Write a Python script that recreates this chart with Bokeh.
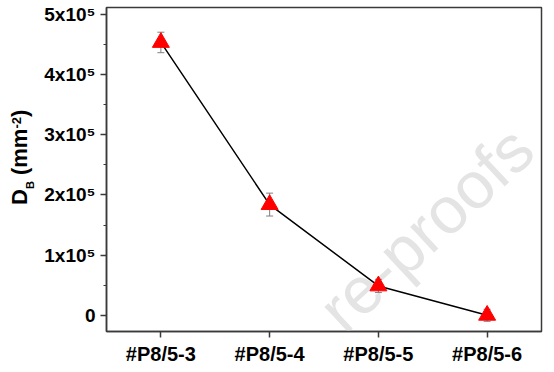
import math
from bokeh.plotting import figure
from bokeh.layouts import row
from bokeh.models import (FactorRange, Range1d, ColumnDataSource, Whisker, TeeHead,
                          Label, CustomJSTickFormatter, FixedTicker, Div)
from bokeh.embed import file_html
from bokeh.resources import INLINE

# ---- data ----
samples = ["#P8/5-3", "#P8/5-4", "#P8/5-5", "#P8/5-6"]
db = [4.53e5, 1.84e5, 0.49e5, 0.003e5]
db_err = [0.17e5, 0.19e5, 0.11e5, 0.10e5]
y_ticks = [0, 1e5, 2e5, 3e5, 4e5, 5e5]
y_minor = [0.5e5, 1.5e5, 2.5e5, 3.5e5, 4.5e5]

FONT = "Liberation Sans"
AXC = "#3a3a3a"
DIV_W = 40

src = ColumnDataSource(dict(
    x=samples, y=db,
    upper=[v + e for v, e in zip(db, db_err)],
    lower=[v - e for v, e in zip(db, db_err)],
))

p = figure(width=554 - DIV_W, height=372,
           x_range=FactorRange(*samples, range_padding=0),
           y_range=Range1d(-0.266e5, 5.11e5),
           output_backend="svg", toolbar_location=None,
           min_border_left=106 - DIV_W, min_border_right=13,
           min_border_top=7, min_border_bottom=41)

p.xgrid.visible = False
p.ygrid.visible = False
p.background_fill_color = "white"
p.border_fill_color = "white"
p.outline_line_color = AXC
p.outline_line_width = 1.5

# faint watermark (kept inside the plot frame)
wm = Label(x=416, y=193, x_units="screen", y_units="screen", text="re-proofs",
           angle=math.radians(43), text_align="right", text_baseline="alphabetic",
           text_font=FONT, text_font_size="66px", text_color="#e4e4e4", level="underlay")
p.add_layout(wm)

p.line("x", "y", source=src, line_color="black", line_width=1.5)

wh = Whisker(base="x", upper="upper", lower="lower", source=src,
             line_color="#808080", line_width=1, level="underlay",
             upper_head=TeeHead(size=7, line_color="#808080", line_width=1),
             lower_head=TeeHead(size=7, line_color="#808080", line_width=1))
p.add_layout(wh)

p.scatter("x", "y", source=src, marker="triangle", size=17,
          fill_color="#ff0000", line_color="#ff0000")

# axes
for ax in (p.xaxis[0], p.yaxis[0]):
    ax.axis_line_color = AXC
    ax.axis_line_width = 1.5
    ax.major_tick_line_color = AXC
    ax.major_tick_line_width = 1.5
    ax.major_tick_out = 6
    ax.major_tick_in = 0
    ax.major_label_text_font = FONT
    ax.major_label_text_font_style = "bold"
    ax.major_label_text_color = "black"
    ax.major_label_standoff = 5

p.xaxis.major_label_text_font_size = "20px"
p.yaxis.major_label_text_font_size = "19px"
p.yaxis.ticker = FixedTicker(ticks=y_ticks, minor_ticks=y_minor)
p.yaxis.minor_tick_line_color = AXC
p.yaxis.minor_tick_line_width = 1.2
p.yaxis.minor_tick_out = 3
p.yaxis.minor_tick_in = 0
p.yaxis.formatter = CustomJSTickFormatter(code="""
    if (tick == 0) { return "0"; }
    return (tick / 1e5).toFixed(0) + "x10\u2075";
""")

# y-axis title D_B (mm^-2) as rotated HTML text
ylab_html = (
    '<div style="transform: translate(9px, 205px) rotate(-90deg); transform-origin: 0 0; '
    'white-space: nowrap; width: max-content; font-family: \'Liberation Sans\'; '
    'font-weight: bold; font-size: 22px; line-height: 22px; color: black;">'
    'D<span style="font-size:11px; vertical-align:-7px; line-height:0">B</span>'
    ' (mm<span style="font-size:13px; vertical-align:6px; line-height:0">-2</span>)</div>'
)
ylab = Div(text=ylab_html, width=DIV_W, height=372, margin=0)

layout = row(ylab, p, spacing=0)
open("out.html", "w").write(file_html(layout, INLINE))
